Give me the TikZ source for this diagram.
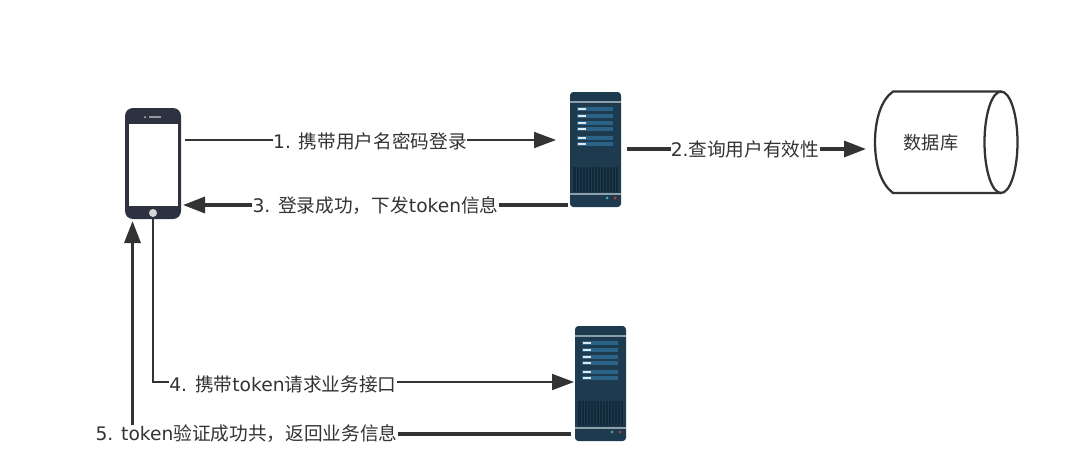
\documentclass[tikz,border=0pt]{standalone}
\usepackage{fontspec}
\setmainfont{DejaVu Sans}
\newfontfamily\cjkf{Noto Sans CJK SC}
\newcommand{\zh}[1]{{\cjkf #1}}
\usetikzlibrary{arrows.meta}
\definecolor{ink}{HTML}{333333}
\definecolor{phonec}{HTML}{2E3140}
\definecolor{srv}{HTML}{1D3A4E}
\definecolor{srvrow}{HTML}{2B6288}
\definecolor{srvdark}{HTML}{14293A}
\definecolor{srvline}{HTML}{8CA0AC}
\tikzset{
  x=0.75pt,y=-0.75pt,
  lbl/.style={font=\fontsize{14pt}{15pt}\selectfont,text=ink,fill=white,inner sep=0pt,anchor=center},
  bighead/.style={-{Triangle[length=16.5pt,width=12pt]}},
  thinline/.style={draw=ink,line width=1.4pt},
  thickline/.style={draw=ink,line width=2.5pt},
  srvbody/.style={draw=none,fill=srv,rounded corners=2.5pt,minimum width=38.25pt,minimum height=86.25pt,inner sep=0pt},
  phonebody/.style={draw=none,fill=phonec,rounded corners=6pt,minimum width=42pt,minimum height=83.25pt,inner sep=0pt},
}
\newcommand{\srvdetail}[2]{%
  \begin{scope}[shift={(#1,#2)}]
    \fill[srvline] (0,9) rectangle (51,10.5);
    \foreach \r in {17,24,31,37,46,52}{
      \fill[srvrow] (7,\r-2) rectangle (43,\r+2);
      \fill[white!85!srvrow] (8,\r-1) rectangle (16,\r+1);
    }
    \fill[srvdark] (3,75) rectangle (48,100);
    \foreach \v in {6,9,...,46}{ \draw[srv,line width=0.4pt] (\v,75) -- (\v,100); }
    \fill[srvline] (0,101) rectangle (51,102.5);
    \fill[teal!70!white] (37,106) circle (1.5);
    \fill[red!55!gray] (45,106) circle (1.5);
  \end{scope}}
\begin{document}
\begin{tikzpicture}
\useasboundingbox (0,0) rectangle (1080,454);
\fill[white] (0,0) rectangle (1080,454);
% phone
\node[phonebody] (phone) at (153,163.5) {};
\fill[white] (129,124) rectangle (178,206);
\fill[white!80!phonec] (153,213) circle (4);
\fill[white!70!phonec] (145,117) circle (1);
\fill[white!50!phonec] (149,116.4) rectangle (161,117.6);
% servers
\node[srvbody] (s1) at (595.5,149.5) {};
\srvdetail{570}{92}
\node[srvbody] (s2) at (600.5,383.5) {};
\srvdetail{575}{326}
% database
\node[inner sep=0pt,font=\fontsize{13.6pt}{15pt}\selectfont,text=ink] (db) at (931,143) {\zh{数据库}};
\draw[draw=ink,line width=1.7pt] (1001,91.5) -- (893,91.5) .. controls (881,100) and (875,120) .. (875,142) .. controls (875,165) and (881,184) .. (893,193) -- (1001,193);
\draw[draw=ink,line width=1.7pt] (1001,142.25) ellipse [x radius=16.5,y radius=50.75];
\coordinate (dbin) at (866,149);
% labels
\node[lbl] (l1) at (370,141) {1. \zh{携带用户名密码登录}};
\node[lbl] (l2) at (745,149.5) {2.\zh{查询用户有效性}};
\node[lbl] (l3) at (375.5,206) {3. \zh{登录成功，下发}token\zh{信息}};
\node[lbl] (l4) at (283,384) {4. \zh{携带}token\zh{请求业务接口}};
\node[lbl] (l5) at (246.5,434) {5. token\zh{验证成功共，返回业务信息}};
% connector ends
\coordinate (p1) at (185,140);
\coordinate (s1w) at (556,140);
\coordinate (s1e) at (627,149);
\coordinate (s1b) at (568,205);
\coordinate (p3) at (183,205);
\coordinate (p4) at (153,218);
\coordinate (c4) at (153,382);
\coordinate (s2w) at (574,382);
\coordinate (s2b) at (571,434);
\coordinate (p5) at (132.5,221);
\coordinate (l5t) at (132.5,425);
% connectors
\draw[thinline] (p1) -- (l1.west |- p1);
\draw[thinline,bighead] (l1.east |- p1) -- (s1w);
\draw[thickline] (s1e) -- (l2.west |- s1e);
\draw[thickline,bighead] (l2.east |- s1e) -- (dbin);
\draw[thickline] (s1b) -- (l3.east |- s1b);
\draw[thickline,bighead] (l3.west |- s1b) -- (p3);
\draw[thinline] (p4) -- (c4) -- (l4.west |- c4);
\draw[thinline,bighead] (l4.east |- c4) -- (s2w);
\draw[thickline] (s2b) -- (l5.east |- s2b);
\draw[thickline,bighead] (l5t) -- (p5);
\end{tikzpicture}
\end{document}
